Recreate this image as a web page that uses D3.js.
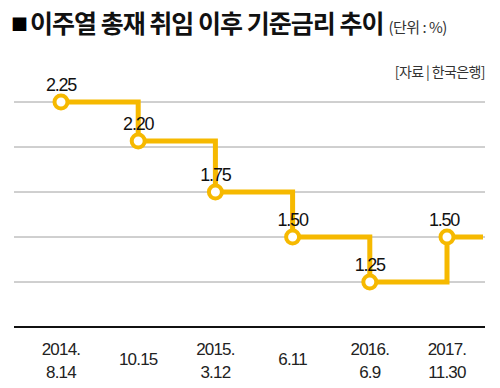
<!DOCTYPE html>
<html><head><meta charset="utf-8">
<script src="https://cdn.jsdelivr.net/npm/d3@7"></script>
<style>
html,body{margin:0;padding:0;background:#fff;}
svg{display:block;}
text{font-family:"Liberation Sans",Arial,sans-serif;}
.kr{font-family:"Noto Sans CJK KR","Noto Sans",sans-serif;}
</style></head><body>
<svg id="c" width="500" height="388"></svg>
<script>
const tickLabels = [["2014.","8.14"],["10.15"],["2015.","3.12"],["6.11"],["2016.","6.9"],["2017.","11.30"]];
const rates = [2.25, 2.20, 1.75, 1.50, 1.25, 1.50];
const rateLabels = ["2.25","2.20","1.75","1.50","1.25","1.50"];
const gridValues = [1.25, 1.50, 1.75, 2.00, 2.25];
const baseValue = 1.00;

const W = 500, H = 388;
const svg = d3.select("#c");
const yellow = "#F6B900";

// title
const title = svg.append("text").attr("class","kr").attr("x",11).attr("y",33);
title.append("tspan").attr("font-size",17).attr("dy",-2).text("■");
title.append("tspan").attr("font-size",25).attr("font-weight",700).attr("letter-spacing",-1).attr("dx",2).attr("dy",2).attr("fill","#111").text("이주열 총재 취임 이후 기준금리 추이");
title.append("tspan").attr("font-size",15).attr("dx",5).attr("fill","#333").attr("letter-spacing",-0.5).text("(단위 : %)");

svg.append("text").attr("class","kr").attr("x",485).attr("y",77).attr("text-anchor","end")
  .attr("font-size",14).attr("letter-spacing",-0.6).attr("fill","#333").text("[자료 | 한국은행]");

const x = d3.scalePoint().domain(d3.range(rates.length)).range([61, 447]);
const y = d3.scaleLinear().domain([1.0, 1.75, 2.0, 2.2, 2.25]).range([327, 192, 147, 141, 102]);
const left = 14, right = 485;

svg.append("g").selectAll("line").data(gridValues).join("line")
  .attr("x1",left).attr("x2",right).attr("y1",d=>y(d)).attr("y2",d=>y(d))
  .attr("stroke","#a0a0a0").attr("stroke-width",1);

svg.append("line").attr("x1",left).attr("x2",right).attr("y1",y(baseValue)).attr("y2",y(baseValue))
  .attr("stroke","#111").attr("stroke-width",1.8);

const pts = rates.map((r,i)=>[x(i), y(r)]);
pts.push([right-2, y(rates[rates.length-1])]);
svg.append("path").attr("d", d3.line().curve(d3.curveStepAfter)(pts))
  .attr("fill","none").attr("stroke",yellow).attr("stroke-width",5);

svg.append("g").selectAll("circle").data(rates).join("circle")
  .attr("cx",(d,i)=>x(i)).attr("cy",d=>y(d)).attr("r",6.5)
  .attr("fill","#fff").attr("stroke",yellow).attr("stroke-width",4);

svg.append("g").selectAll("text").data(rates).join("text")
  .attr("x",(d,i)=>x(i) + (i===rates.length-1 ? -3 : 0)).attr("y",d=>y(d)-11)
  .attr("text-anchor","middle").attr("font-size",18).attr("letter-spacing",-1.2).attr("fill","#111")
  .text((d,i)=>rateLabels[i]);

const tg = svg.append("g").selectAll("text").data(tickLabels).join("text")
  .attr("text-anchor","middle").attr("font-size",17).attr("letter-spacing",-0.8).attr("fill","#222")
  .attr("x",(d,i)=>x(i)).attr("y",d=>d.length===2?355:365);
tg.selectAll("tspan").data(d=>d).join("tspan")
  .attr("x",function(){return this.parentNode.getAttribute("x");})
  .attr("dy",(d,j)=>j===0?0:23).text(d=>d);
</script>
</body></html>
